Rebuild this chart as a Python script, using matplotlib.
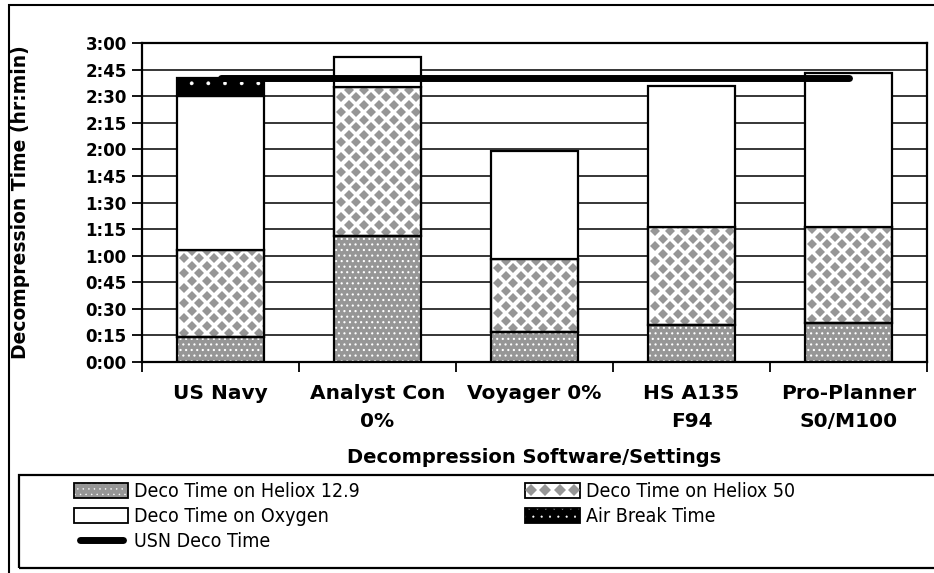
import matplotlib
matplotlib.use("Agg")
import matplotlib.pyplot as plt
import numpy as np
from matplotlib.patches import Patch, Rectangle
from matplotlib.lines import Line2D
from matplotlib.legend_handler import HandlerTuple
from matplotlib.ticker import FuncFormatter, MultipleLocator

# data (minutes)
categories = ["US Navy", "Analyst Con\n0%", "Voyager 0%", "HS A135\nF94", "Pro-Planner\nS0/M100"]
heliox129 = [14, 71, 17, 21, 22]
heliox50 = [49, 84, 41, 55, 54]
oxygen = [87, 17, 61, 80, 87]
air_break = [10, 0, 0, 0, 0]
usn_deco = [160, 160, 160, 160, 160]

GRAY = "#969696"

plt.rcParams['font.family'] = ['DejaVu Sans']
plt.rcParams['hatch.linewidth'] = 0.8

fig = plt.figure(figsize=(9.34, 5.73), dpi=100)
ax = fig.add_axes([142/934, 1 - 362/573, 785/934, 319/573])

x = np.arange(len(categories)) + 0.5
w = 0.555
h129 = np.array(heliox129)
h50 = np.array(heliox50)
o2 = np.array(oxygen)
air = np.array(air_break)
EW = 1.6

# heliox 12.9: gray with white dots
ax.bar(x, h129, w, color=GRAY, edgecolor="white", hatch="...", lw=0, zorder=2)
ax.bar(x, h129, w, fill=False, edgecolor="black", lw=EW, zorder=3)

# heliox 50: white with gray diamonds
b50 = ax.bar(x, h50, w, bottom=h129, color="white", edgecolor="black", lw=EW, zorder=2)
dx = 15 * 5 / 785
dy = 7.5 * 180 / 319
for rect in b50:
    x0, y0 = rect.get_x(), rect.get_y()
    bw, bh = rect.get_width(), rect.get_height()
    xs, ys = [], []
    j = 0
    yy = y0 + dy / 2
    while yy < y0 + bh + dy:
        off = dx / 2 if j % 2 else 0
        xx = x0 + dx / 2 + off
        while xx < x0 + bw + dx:
            xs.append(xx)
            ys.append(yy)
            xx += dx
        yy += dy
        j += 1
    ln, = ax.plot(xs, ys, ls="none", marker="D", ms=4.7, mfc=GRAY, mec=GRAY, mew=0, zorder=2.5)
    ln.set_clip_path(rect)
ax.bar(x, h50, w, bottom=h129, fill=False, edgecolor="black", lw=EW, zorder=3)

# oxygen
ax.bar(x, o2, w, bottom=h129 + h50, color="white", edgecolor="black", lw=EW, zorder=3)

# air break: black with white dots
plt.rcParams['hatch.linewidth'] = 0.3
mask = air > 0
ax.bar(x[mask], air[mask], w, bottom=(h129 + h50 + o2)[mask], color="black",
       edgecolor="white", hatch=".", lw=0, zorder=2)
ax.bar(x[mask], air[mask], w, bottom=(h129 + h50 + o2)[mask], fill=False,
       edgecolor="black", lw=EW, zorder=3)

# USN deco time line
ax.plot(x, usn_deco, color="black", lw=5, solid_capstyle="round", zorder=5)

ax.set_xlim(0, len(categories))
ax.set_ylim(0, 180)
ax.yaxis.set_major_locator(MultipleLocator(15))
ax.yaxis.set_major_formatter(FuncFormatter(lambda v, p: f"{int(v) // 60}:{int(v) % 60:02d}"))
ax.grid(axis="y", color="black", lw=1.1, zorder=0)
ax.set_axisbelow(True)

ax.set_xticks(np.arange(len(categories) + 1))
ax.set_xticklabels([])
ax.set_xticks(x, minor=True)
ax.set_xticklabels(categories, minor=True, fontsize=14.5, fontweight="bold", linespacing=1.6)
ax.tick_params(axis="x", which="major", direction="out", length=7, width=1.3)
ax.tick_params(axis="x", which="minor", length=0, pad=16)
ax.tick_params(axis="y", direction="out", length=7, width=1.3, labelsize=12, pad=4)
for lab in ax.get_yticklabels():
    lab.set_fontweight("bold")
for s in ax.spines.values():
    s.set_linewidth(1.6)

ax.set_xlabel("Decompression Software/Settings", fontsize=14, fontweight="bold", labelpad=12)
ax.set_ylabel("Decompression Time (hr:min)", fontsize=13.5, fontweight="bold")
ax.yaxis.set_label_coords(-0.143, 0.5)

# outer border and legend frame
fig.patches.append(Rectangle((9/934, -0.05), 1.2, 1 - 5/573 + 0.05, transform=fig.transFigure,
                             fill=False, edgecolor="black", lw=1.5))
fig.patches.append(Rectangle((19/934, 1 - 568/573), 1.2, (568 - 475)/573, transform=fig.transFigure,
                             fill=False, edgecolor="black", lw=1.6))

h_129 = (Patch(facecolor=GRAY, edgecolor="white", hatch="...", lw=0),
         Patch(fill=False, edgecolor="black", lw=1.3))
h_50 = (Patch(facecolor="white", edgecolor="black", lw=1.3),
        Line2D([], [], ls="none", marker="D", ms=6.5, mfc=GRAY, mec=GRAY, mew=0))
h_o2 = Patch(facecolor="white", edgecolor="black", lw=1.3)
h_air = (Patch(facecolor="black", edgecolor="white", hatch="..", lw=0),
         Patch(fill=False, edgecolor="black", lw=1.3))
h_usn = Line2D([], [], color="black", lw=5, solid_capstyle="round")

leg = fig.legend([h_129, h_o2, h_usn, h_50, h_air],
                 ["Deco Time on Heliox 12.9", "Deco Time on Oxygen", "USN Deco Time",
                  "Deco Time on Heliox 50", "Air Break Time"],
                 ncol=2, loc="upper left", bbox_to_anchor=(74/934, 1 - 482/573),
                 frameon=False, borderpad=0, borderaxespad=0,
                 prop={"family": ["DejaVu Sans"], "stretch": "condensed", "size": 14},
                 handlelength=2.8, handleheight=0.8, handletextpad=0.3, labelspacing=0.3,
                 columnspacing=8.5, numpoints=4,
                 handler_map={tuple: HandlerTuple(ndivide=1, pad=0)})

fig.savefig("out.png", dpi=100)
